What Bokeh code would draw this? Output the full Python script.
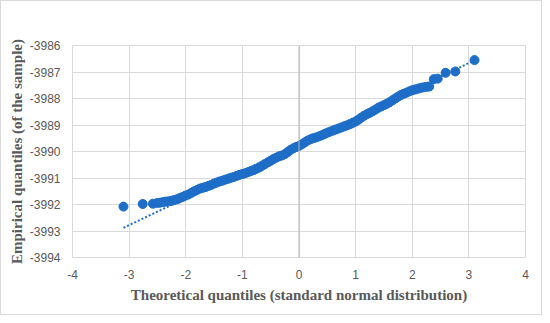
from bokeh.plotting import figure
from bokeh.models import FixedTicker, Span, Range1d, PrintfTickFormatter
from bokeh.embed import file_html
from bokeh.resources import INLINE

# Theoretical quantiles (x) and empirical quantiles (y)
theoretical = [
    -3.10, -2.76, -2.58, -2.50, -2.45, -2.40, -2.35, -2.30, -2.25, -2.20,
    -2.15, -2.10, -2.05, -2.00, -1.95, -1.90, -1.85, -1.80, -1.75, -1.70,
    -1.65, -1.60, -1.55, -1.50, -1.45, -1.40, -1.35, -1.30, -1.25, -1.20,
    -1.15, -1.10, -1.05, -1.00, -0.95, -0.90, -0.85, -0.80, -0.75, -0.70,
    -0.65, -0.60, -0.55, -0.50, -0.45, -0.40, -0.35, -0.30, -0.25, -0.20,
    -0.15, -0.10, -0.05, 0.00, 0.05, 0.10, 0.15, 0.20, 0.25, 0.30,
    0.35, 0.40, 0.45, 0.50, 0.55, 0.60, 0.65, 0.70, 0.75, 0.80,
    0.85, 0.90, 0.95, 1.00, 1.05, 1.10, 1.15, 1.20, 1.25, 1.30,
    1.35, 1.40, 1.45, 1.50, 1.55, 1.60, 1.65, 1.70, 1.75, 1.80,
    1.85, 1.90, 1.95, 2.00, 2.05, 2.10, 2.15, 2.20, 2.25, 2.30,
    2.38, 2.45, 2.59, 2.76, 3.10,
]
empirical = [
    -3992.08, -3991.98, -3991.97, -3991.94, -3991.93, -3991.91, -3991.89, -3991.88, -3991.86, -3991.83,
    -3991.80, -3991.75, -3991.71, -3991.66, -3991.62, -3991.56, -3991.50, -3991.45, -3991.40, -3991.37,
    -3991.34, -3991.30, -3991.26, -3991.21, -3991.17, -3991.13, -3991.10, -3991.06, -3991.03, -3990.99,
    -3990.96, -3990.92, -3990.88, -3990.85, -3990.82, -3990.78, -3990.74, -3990.70, -3990.65, -3990.60,
    -3990.54, -3990.47, -3990.41, -3990.35, -3990.28, -3990.23, -3990.18, -3990.15, -3990.10, -3990.02,
    -3989.94, -3989.88, -3989.83, -3989.79, -3989.73, -3989.66, -3989.59, -3989.54, -3989.50, -3989.47,
    -3989.43, -3989.39, -3989.34, -3989.29, -3989.25, -3989.21, -3989.17, -3989.13, -3989.09, -3989.05,
    -3989.01, -3988.97, -3988.92, -3988.87, -3988.80, -3988.72, -3988.65, -3988.59, -3988.54, -3988.48,
    -3988.42, -3988.35, -3988.30, -3988.25, -3988.20, -3988.14, -3988.07, -3988.00, -3987.93, -3987.87,
    -3987.82, -3987.78, -3987.73, -3987.69, -3987.66, -3987.63, -3987.60, -3987.58, -3987.56, -3987.55,
    -3987.27, -3987.25, -3987.03, -3986.98, -3986.55,
]

# Linear trend line endpoints
trend_x = [-3.10, 3.10]
trend_y = [-3992.88, -3986.56]

x_ticks = [-4, -3, -2, -1, 0, 1, 2, 3, 4]
y_ticks = [-3994, -3993, -3992, -3991, -3990, -3989, -3988, -3987, -3986]

BLUE = "#1E6EC8"
GRID = "#D9D9D9"
TXT = "#595959"

p = figure(width=542, height=315, output_backend="svg", toolbar_location=None,
           x_range=Range1d(-4, 4), y_range=Range1d(-3994, -3986),
           min_border_left=71, min_border_right=18, min_border_top=44, min_border_bottom=59)
p.styles = {"border": "1px solid #D9D9D9"}
p.outline_line_color = GRID
p.background_fill_color = "white"
p.border_fill_color = "white"

p.xaxis.ticker = FixedTicker(ticks=x_ticks)
p.yaxis.ticker = FixedTicker(ticks=y_ticks)
for ax in (p.xaxis, p.yaxis):
    ax.formatter = PrintfTickFormatter(format="%d")
    ax.axis_line_color = None
    ax.major_tick_line_color = None
    ax.minor_tick_line_color = None
    ax.major_tick_out = 0
    ax.major_tick_in = 0
    ax.minor_tick_out = 0
    ax.minor_tick_in = 0
    ax.major_label_text_font = "Liberation Sans"
    ax.major_label_text_font_size = "12px"
    ax.major_label_text_color = TXT
    ax.axis_label_text_font = "Liberation Serif"
    ax.axis_label_text_font_style = "bold"
    ax.axis_label_text_font_size = "15px"
    ax.axis_label_text_color = TXT
p.xaxis.major_label_standoff = 12
p.yaxis.major_label_standoff = 12
p.xaxis.axis_label = "Theoretical quantiles (standard normal distribution)"
p.yaxis.axis_label = "Empirical quantiles (of the sample)"
p.xaxis.axis_label_standoff = 5
p.yaxis.axis_label_standoff = 2

p.grid.grid_line_color = GRID
p.grid.grid_line_width = 1

p.add_layout(Span(location=0, dimension="height", line_color="#B4B4B4", line_width=1))

p.scatter(theoretical, empirical, size=9, color=BLUE, line_color=BLUE)
p.line(trend_x, trend_y, line_color=BLUE, line_width=2, line_dash="2 2")

open("out.html", "w").write(file_html(p, INLINE))
